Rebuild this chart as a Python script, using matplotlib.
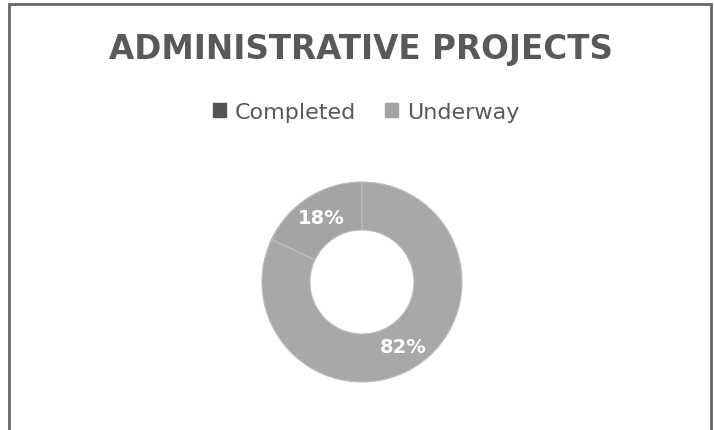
import matplotlib.pyplot as plt
from matplotlib.patches import Patch, Rectangle

labels = ["Completed", "Underway"]
values = [18, 82]
ring_colors = ["#a4a4a4", "#a8a8a8"]
legend_colors = ["#555555", "#a3a3a3"]
title = "ADMINISTRATIVE PROJECTS"

W, H = 714, 431
fig = plt.figure(figsize=(W / 100, H / 100), dpi=100)

# chart border (runs off the bottom of the picture)
fig.add_artist(Rectangle((9 / W, -0.05), 702 / W, 1.05 - 5 / H,
                         transform=fig.transFigure, fill=False,
                         edgecolor="#666666", linewidth=2))

fig.text(0.505, 1 - 50 / H, title, ha="center", va="center",
         fontsize=23.5, fontweight="bold", color="#595959",
         family="DejaVu Sans")

# donut
cx, cy, r = 362, 283, 100
ax = fig.add_axes([(cx - r) / W, 1 - (cy + r) / H, 2 * r / W, 2 * r / H])
wedges, _, autotexts = ax.pie(
    values, colors=ring_colors, startangle=90, counterclock=True,
    autopct="%d%%", pctdistance=0.76, radius=1,
    wedgeprops=dict(width=0.48, edgecolor="#bdbdbd", linewidth=0.8),
    textprops=dict(color="white", fontsize=14, fontweight="bold"))
ax.set_xlim(-1, 1)
ax.set_ylim(-1, 1)
ax.set_aspect("equal")
ax.axis("off")

handles = [Patch(facecolor=c, edgecolor=c) for c in legend_colors]
fig.legend(handles, labels, loc="center", bbox_to_anchor=(0.513, 1 - 113 / H),
           ncol=2, frameon=False, fontsize=16, labelcolor="#595959",
           handlelength=0.6, handleheight=0.6, handletextpad=0.4,
           columnspacing=1.3)

fig.savefig("out.png", dpi=100)
